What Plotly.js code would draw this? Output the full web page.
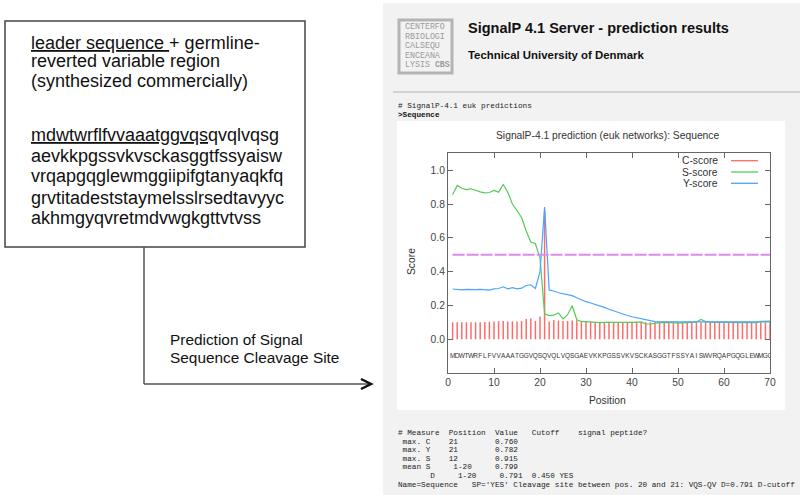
<!DOCTYPE html>
<html>
<head>
<meta charset="utf-8">
<script src="https://cdn.plot.ly/plotly-3.0.1.min.js"></script>
<style>
  html, body { margin: 0; padding: 0; background: #fff; }
  #myDiv { width: 800px; height: 495px; }
</style>
</head>
<body>
<div id="myDiv"></div>
<script>
var W = 800, H = 495;
function px(x) { return x / W; }
function py(y) { return 1 - y / H; }
function nb(s) { return s.replace(/ /g, '\u00a0'); }

// residues along the x axis (first 70 of the submitted sequence)
var sequence = 'MDWTWRFLFVVAAATGGVQSQVQLVQSGAEVKKPGSSVKVSCKASGGTFSSYAISWVRQAPGQGLEWMGG';
var residues = sequence.split('');
var position = residues.map(function (r, i) { return i + 1; });

var cScore = [0.100, 0.100, 0.100, 0.100, 0.100, 0.100, 0.100, 0.102, 0.103, 0.105,
              0.106, 0.108, 0.104, 0.106, 0.104, 0.107, 0.120, 0.122, 0.108, 0.135,
              0.760, 0.105, 0.113, 0.110, 0.108, 0.108, 0.110, 0.112, 0.108, 0.105,
              0.103, 0.102, 0.100, 0.102, 0.103, 0.100, 0.102, 0.100, 0.101, 0.103,
              0.105, 0.102, 0.100, 0.100, 0.101, 0.102, 0.100, 0.102, 0.100, 0.100,
              0.101, 0.100, 0.102, 0.100, 0.100, 0.101, 0.100, 0.100, 0.102, 0.100,
              0.100, 0.103, 0.100, 0.102, 0.104, 0.100, 0.101, 0.100, 0.100, 0.100];

var sScore = [0.855, 0.910, 0.893, 0.885, 0.890, 0.880, 0.872, 0.866, 0.868, 0.880,
              0.870, 0.915, 0.870, 0.800, 0.760, 0.720, 0.640, 0.575, 0.565, 0.480,
              0.150, 0.140, 0.142, 0.155, 0.120, 0.145, 0.198, 0.115, 0.105, 0.103,
              0.100, 0.100, 0.098, 0.100, 0.100, 0.097, 0.100, 0.100, 0.098, 0.100,
              0.100, 0.102, 0.090, 0.090, 0.095, 0.098, 0.100, 0.100, 0.098, 0.095,
              0.098, 0.100, 0.100, 0.102, 0.117, 0.105, 0.100, 0.100, 0.100, 0.100,
              0.102, 0.100, 0.100, 0.100, 0.102, 0.100, 0.098, 0.105, 0.107, 0.107];

var yScore = [0.297, 0.295, 0.292, 0.295, 0.292, 0.293, 0.295, 0.292, 0.290, 0.298,
              0.300, 0.310, 0.298, 0.305, 0.298, 0.302, 0.318, 0.322, 0.300, 0.400,
              0.782, 0.290, 0.285, 0.275, 0.270, 0.262, 0.258, 0.245, 0.232, 0.222,
              0.214, 0.206, 0.198, 0.188, 0.177, 0.167, 0.157, 0.148, 0.140, 0.133,
              0.127, 0.121, 0.115, 0.108, 0.104, 0.103, 0.103, 0.102, 0.102, 0.100,
              0.101, 0.100, 0.100, 0.101, 0.102, 0.101, 0.100, 0.100, 0.101, 0.100,
              0.101, 0.100, 0.100, 0.101, 0.100, 0.100, 0.101, 0.102, 0.102, 0.102];

var cutoff = 0.5;
var seqRow = -0.1;
var xTicks = [0, 10, 20, 30, 40, 50, 60, 70];
var yTicks = [0, 0.2, 0.4, 0.6, 0.8, 1.0];

var legendNames = ['C-score', 'S-score', 'Y-score'];
var colors = ['#ff6a6a', '#55cc55', '#4aa3ff'];

var boxLines = ['<u>leader sequence </u>+ germline-', 'reverted variable region', '(synthesized commercially)'];
var seqLines = ['<u>mdwtwrflfvvaaatggvqs</u>qvqlvqsg', 'aevkkpgssvkvsckasggtfssyaisw',
                'vrqapgqglewmggiipifgtanyaqkfq', 'grvtitadeststaymelsslrsedtavyyc', 'akhmgyqvretmdvwgkgttvtvss'];
var logoLines = ['CENTERFO', 'RBIOLOGI', 'CALSEQU', 'ENCEANA', 'LYSIS <b>CBS</b>'];
var preLines = ['# Measure  Position  Value   Cutoff    signal peptide?',
                ' max. C    21        0.760',
                ' max. Y    21        0.782',
                ' max. S    12        0.915',
                ' mean S     1-20     0.799',
                '       D     1-20     0.791  0.450 YES',
                "Name=Sequence   SP='YES' Cleavage site between pos. 20 and 21: VQS-QV D=0.791 D-cutoff"];

var sans = 'Liberation Sans, Arial, sans-serif';
var mono = 'Liberation Mono, Courier New, monospace';

function loadPage() {
    var traceC = {
        x: position, y: cScore, type: 'bar', width: 0.32,
        marker: {color: colors[0], line: {width: 0}}
    };
    var traceS = {
        x: position, y: sScore, type: 'scatter', mode: 'lines',
        line: {color: colors[1], width: 1.2}
    };
    var traceY = {
        x: position, y: yScore, type: 'scatter', mode: 'lines',
        line: {color: colors[2], width: 1.2}
    };
    var traceCut = {
        x: [position[0], position[position.length - 1]], y: [cutoff, cutoff],
        type: 'scatter', mode: 'lines',
        line: {color: '#dc8cf0', width: 2, dash: '12px,2px'}
    };
    var traceSeq = {
        x: position, y: residues.map(function () { return seqRow; }),
        type: 'scatter', mode: 'text', text: residues, textposition: 'middle center',
        textfont: {family: sans, size: 6.5, color: '#333'}
    };

    var ann = [];
    function txt(t, x, y, size, opts) {
        var a = {
            text: t, x: px(x), y: py(y), xref: 'paper', yref: 'paper',
            xanchor: 'left', yanchor: 'middle', showarrow: false,
            font: {family: sans, size: size, color: '#111'}
        };
        for (var k in opts) a[k] = opts[k];
        ann.push(a);
    }

    var boxY = [42.5, 61, 80.5];
    boxLines.forEach(function (t, i) { txt(t, 29, boxY[i], 18); });
    var seqY = [135, 156, 176.5, 197.5, 218];
    seqLines.forEach(function (t, i) { txt(t, 29, seqY[i], 18); });

    txt('Prediction of Signal', 168, 339, 15.4);
    txt('Sequence Cleavage Site', 168, 357, 15.4);

    txt('<b>SignalP 4.1 Server - prediction results</b>', 466, 28, 14.5);
    txt('<b>Technical University of Denmark</b>', 466, 55, 11.4);

    var logoY = [26.5, 36, 45.5, 55, 64.5];
    logoLines.forEach(function (t, i) {
        txt(t, 403, logoY[i], 8.3, {font: {family: mono, size: 8.3, color: '#9a9a9a'}});
    });

    txt(nb('# SignalP-4.1 euk predictions'), 396, 106, 7.7, {font: {family: mono, size: 7.7, color: '#222'}});
    txt('<b>&gt;Sequence</b>', 396, 115, 7.7, {font: {family: mono, size: 7.7, color: '#111'}});

    var preY = [433, 441.5, 450, 458.5, 467, 475.5, 484.5];
    preLines.forEach(function (t, i) {
        txt(nb(t), 396, preY[i], 7.7, {font: {family: mono, size: 7.7, color: '#222'}});
    });

    txt('SignalP-4.1 prediction (euk networks): Sequence', 607.5, 135.5, 10.3,
        {xanchor: 'center', font: {family: sans, size: 10.3, color: '#333'}});
    txt('Position', 607, 400.5, 10.3, {xanchor: 'center', font: {family: sans, size: 10.3, color: '#333'}});
    txt('Score', 411, 262, 10.3, {xanchor: 'center', textangle: -90, font: {family: sans, size: 10.3, color: '#333'}});

    var legY = [160.7, 172, 183.3];
    legendNames.forEach(function (t, i) {
        txt(t, 720, legY[i], 10.3, {xanchor: 'right', font: {family: sans, size: 10.3, color: '#333'}});
    });

    var shapes = [
        {type: 'rect', layer: 'below', xref: 'paper', yref: 'paper', x0: px(383), x1: px(800), y0: py(3), y1: py(495),
         fillcolor: '#f2f2f2', line: {width: 0}},
        {type: 'rect', layer: 'below', xref: 'paper', yref: 'paper', x0: px(397), x1: px(785), y0: py(121), y1: py(410),
         fillcolor: '#ffffff', line: {width: 0}},
        {type: 'line', xref: 'paper', yref: 'paper', x0: px(393), x1: px(800), y0: py(92), y1: py(92),
         line: {color: '#c8c8c8', width: 1.5}},
        {type: 'rect', xref: 'paper', yref: 'paper', x0: px(399), x1: px(452), y0: py(20), y1: py(73),
         line: {color: '#b4b4b4', width: 3}},
        {type: 'rect', xref: 'paper', yref: 'paper', x0: px(5), x1: px(305), y0: py(21), y1: py(247),
         line: {color: '#444', width: 1.5}},
        {type: 'line', xref: 'paper', yref: 'paper', x0: px(144), x1: px(144), y0: py(247), y1: py(384),
         line: {color: '#555', width: 1.5}},
        {type: 'line', xref: 'paper', yref: 'paper', x0: px(144), x1: px(370), y0: py(384), y1: py(384),
         line: {color: '#555', width: 1.5}},
        {type: 'path', xref: 'paper', yref: 'paper',
         path: 'M ' + px(361) + ' ' + py(379) + ' L ' + px(371) + ' ' + py(384) + ' L ' + px(361) + ' ' + py(389),
         line: {color: '#111', width: 2.5}}
    ];
    legY.forEach(function (y, i) {
        shapes.push({type: 'line', xref: 'paper', yref: 'paper', x0: px(731), x1: px(758), y0: py(y), y1: py(y),
                     line: {color: colors[i], width: 1.3}});
    });

    var axisBase = {
        ticks: 'inside', ticklen: 5, tickcolor: '#666', mirror: 'ticks', showline: true,
        linecolor: '#666', linewidth: 1, showgrid: false, zeroline: false, fixedrange: true,
        tickfont: {family: sans, size: 10.3, color: '#444'}
    };
    var xaxis = Object.assign({}, axisBase, {
        domain: [px(448), px(770)], range: [0, 70], tickvals: xTicks
    });
    var yaxis = Object.assign({}, axisBase, {
        domain: [py(373), py(153.3)], range: [-0.2, 1.1], tickvals: yTicks, tickformat: '.1f'
    });

    var data = [traceC, traceS, traceY, traceCut, traceSeq];
    var layout = {
        width: W, height: H,
        margin: {l: 0, r: 0, t: 0, b: 0},
        paper_bgcolor: '#ffffff', plot_bgcolor: '#ffffff',
        showlegend: false,
        font: {family: sans, size: 10, color: '#444'},
        xaxis: xaxis, yaxis: yaxis,
        shapes: shapes, annotations: ann
    };

    Plotly.newPlot('myDiv', data, layout, {staticPlot: true, displayModeBar: false});
}

loadPage();
</script>
</body>
</html>
